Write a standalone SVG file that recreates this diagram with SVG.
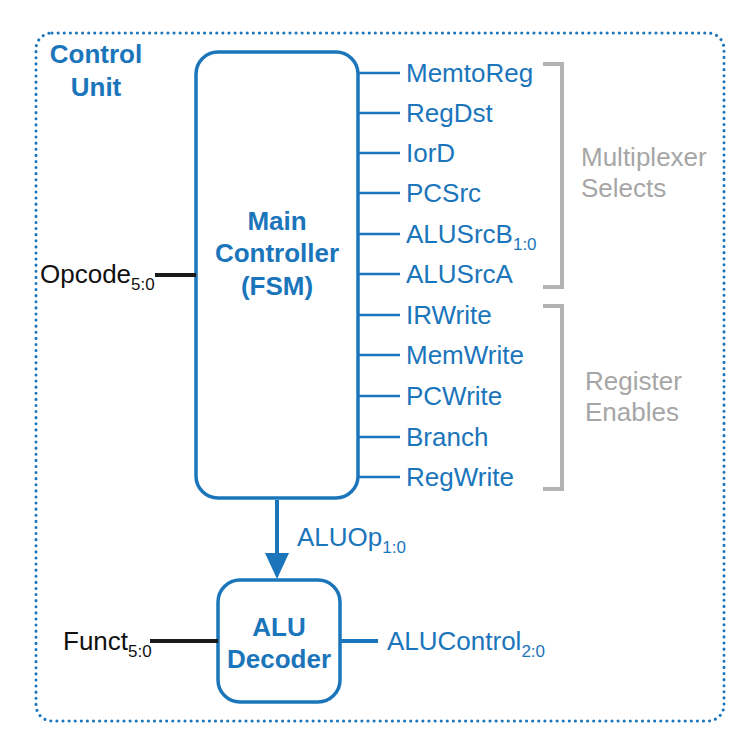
<svg xmlns="http://www.w3.org/2000/svg" width="740" height="742" viewBox="0 0 740 742">
<style>
.blue{fill:#1b75bb}
.t{font-family:"Liberation Sans",Arial,sans-serif;font-size:26px}
.b{font-weight:bold}
.gray{fill:#a6a6a6}
.sub{font-size:17px}
.box{fill:none;stroke:#1b75bb;stroke-width:3.5}
.w{stroke:#1b75bb;stroke-width:2.5;fill:none}
.br{stroke:#b3b3b3;stroke-width:4;fill:none}
</style>
<rect x="0" y="0" width="740" height="742" fill="#fff"/>
<g id="control-unit">
<rect x="36" y="33" width="688" height="688" rx="16" fill="none" stroke="#1b75bb" stroke-width="3" stroke-dasharray="0.1 6" stroke-linecap="round"/>
<text class="t b blue" x="96" y="63" text-anchor="middle" font-size="27">Control</text>
<text class="t b blue" x="96" y="96" text-anchor="middle" font-size="27">Unit</text>
</g>
<g id="main-controller">
<rect class="box" x="196" y="52" width="162" height="446" rx="22"/>
<text class="t b blue" x="277" y="230" text-anchor="middle">Main</text>
<text class="t b blue" x="277" y="262" text-anchor="middle">Controller</text>
<text class="t b blue" x="277" y="295" text-anchor="middle">(FSM)</text>
</g>
<g id="alu-decoder">
<rect class="box" x="218" y="580" width="122" height="122" rx="22"/>
<text class="t b blue" x="279" y="636" text-anchor="middle">ALU</text>
<text class="t b blue" x="279" y="668" text-anchor="middle">Decoder</text>
</g>
<g id="connectors">
<path class="w" d="M358,73H400M358,113H400M358,153H400M358,193H400M358,234H400M358,274H400M358,315H400M358,355H400M358,396H400M358,437H400M358,477H400"/>
<line x1="155" y1="275" x2="196" y2="275" stroke="#1a1a1a" stroke-width="4"/>
<line x1="150" y1="641" x2="218" y2="641" stroke="#1a1a1a" stroke-width="4"/>
<line x1="340" y1="641" x2="378" y2="641" stroke="#1b75bb" stroke-width="4"/>
<line x1="277" y1="500" x2="277" y2="555" stroke="#1b75bb" stroke-width="4"/>
<path d="M265,553 L289,553 L277,579 z" fill="#1b75bb"/>
<path class="br" d="M543,64H562V287H543"/>
<path class="br" d="M543,306H562V489H543"/>
</g>
<g id="labels">
<text class="t blue" x="406" y="82">MemtoReg</text>
<text class="t blue" x="406" y="122">RegDst</text>
<text class="t blue" x="406" y="162">IorD</text>
<text class="t blue" x="406" y="202">PCSrc</text>
<text class="t blue" x="406" y="243">ALUSrcB<tspan class="sub" dy="7">1:0</tspan></text>
<text class="t blue" x="406" y="283">ALUSrcA</text>
<text class="t blue" x="406" y="324">IRWrite</text>
<text class="t blue" x="406" y="364">MemWrite</text>
<text class="t blue" x="406" y="405">PCWrite</text>
<text class="t blue" x="406" y="446">Branch</text>
<text class="t blue" x="406" y="486">RegWrite</text>
<text class="t gray" x="581" y="166">Multiplexer</text>
<text class="t gray" x="581" y="197">Selects</text>
<text class="t gray" x="585" y="390">Register</text>
<text class="t gray" x="585" y="421">Enables</text>
<text class="t" x="40" y="283" fill="#111">Opcode<tspan class="sub" dy="7">5:0</tspan></text>
<text class="t" x="63" y="650" fill="#111">Funct<tspan class="sub" dy="7">5:0</tspan></text>
<text class="t blue" x="297" y="546">ALUOp<tspan class="sub" dy="7">1:0</tspan></text>
<text class="t blue" x="387" y="650">ALUControl<tspan class="sub" dy="7">2:0</tspan></text>
</g>
</svg>
